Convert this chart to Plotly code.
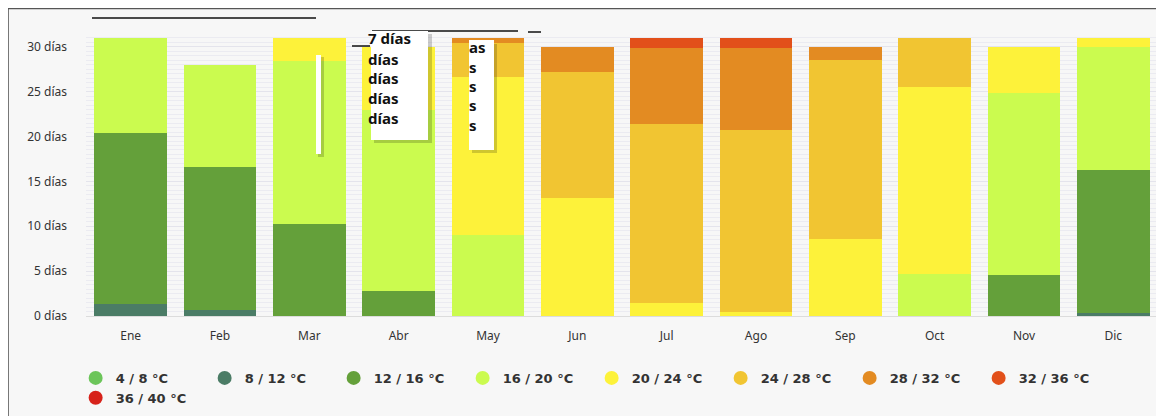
import plotly.graph_objects as go

months = ["Ene", "Feb", "Mar", "Abr", "May", "Jun", "Jul", "Ago", "Sep", "Oct", "Nov", "Dic"]
series_names = ["4 / 8 °C", "8 / 12 °C", "12 / 16 °C", "16 / 20 °C", "20 / 24 °C",
                "24 / 28 °C", "28 / 32 °C", "32 / 36 °C", "36 / 40 °C"]
colors = ["#6cc55a", "#4b7c66", "#64a03a", "#cbfb4f", "#fdf23a",
          "#f1c532", "#e38b22", "#e2501a", "#d7221a"]

t4_8 = [0, 0, 0, 0, 0, 0, 0, 0, 0, 0, 0, 0]
t8_12 = [1.3, 0.7, 0, 0, 0, 0, 0, 0, 0, 0, 0, 0.3]
t12_16 = [19.1, 15.9, 10.3, 2.8, 0, 0, 0, 0, 0, 0, 4.6, 16.0]
t16_20 = [10.6, 11.4, 18.1, 20.2, 9.0, 0, 0, 0, 0, 4.7, 20.2, 13.7]
t20_24 = [0, 0, 2.6, 7.0, 17.6, 13.2, 1.4, 0.5, 8.6, 20.8, 5.2, 1.0]
t24_28 = [0, 0, 0, 0, 3.8, 14.0, 20.0, 20.2, 19.9, 5.5, 0, 0]
t28_32 = [0, 0, 0, 0, 0.6, 2.8, 8.5, 9.2, 1.5, 0, 0, 0]
t32_36 = [0, 0, 0, 0, 0, 0, 1.1, 1.1, 0, 0, 0, 0]
t36_40 = [0, 0, 0, 0, 0, 0, 0, 0, 0, 0, 0, 0]
series = [t4_8, t8_12, t12_16, t16_20, t20_24, t24_28, t28_32, t32_36, t36_40]

y_ticks = [0, 5, 10, 15, 20, 25, 30]
y_labels = [f"{v} días" for v in y_ticks]

FONT = "Noto Sans"
W, H = 1156, 408          # page body margin of 8px offsets the figure in the window
ML, MR, MT, MB = 78, 6, 28, 100
PW, PH = W - ML - MR, H - MT - MB
OFF = 8

fig = go.Figure()
for name, col, vals in zip(series_names, colors, series):
    fig.add_trace(go.Bar(x=months, y=vals, name=name, marker=dict(color=col, line=dict(width=0)),
                         showlegend=False, legendgroup=name))
for name, col in zip(series_names, colors):
    fig.add_trace(go.Scatter(x=[None], y=[None], mode="markers", name=name, legendgroup=name,
                             marker=dict(symbol="circle", size=14, color=col)))

fig.update_layout(
    width=W, height=H,
    margin=dict(l=ML, r=MR, t=MT, b=MB, autoexpand=False),
    barmode="stack", bargap=0.19,
    paper_bgcolor="#f7f7f7", plot_bgcolor="#f7f7f7",
    font=dict(family=FONT, size=12, color="#333333"),
    legend=dict(orientation="h", xref="container", yref="container",
                x=0.0585, xanchor="left", y=0.130, yanchor="top",
                font=dict(family="DejaVu Sans", size=13, color="#333333", weight="bold"),
                entrywidth=84, entrywidthmode="pixels",
                bgcolor="rgba(0,0,0,0)", tracegroupgap=0, itemclick=False),
    showlegend=True,
)
fig.update_xaxes(showgrid=False, showline=True, linecolor="#dcdcdc", linewidth=1,
                 ticks="", tickfont=dict(size=12, color="#333333"), ticklabelstandoff=9)
fig.update_yaxes(range=[0, 31.2], tickvals=y_ticks, ticktext=y_labels,
                 showgrid=True, gridcolor="#e4e4ec", gridwidth=1, zeroline=False,
                 minor=dict(dtick=0.5, showgrid=True, gridcolor="#ebebf1", gridwidth=1),
                 tickfont=dict(size=12, color="#333333"), ticklabelstandoff=18)


# reference-screenshot pixel -> paper coordinates (decorations only)
def fx(x):
    return (x - OFF - ML) / PW


def fy(y):
    return (H - MB + OFF - y) / PH


def rect(x0, x1, y0, y1, color):
    return dict(type="rect", xref="paper", yref="paper", x0=fx(x0), x1=fx(x1), y0=fy(y1), y1=fy(y0),
                fillcolor=color, line=dict(width=0), layer="above")


def hline(x0, x1, y, color="#111111", w=1.5):
    return dict(type="line", xref="paper", yref="paper", x0=fx(x0), x1=fx(x1), y0=fy(y), y1=fy(y),
                line=dict(color=color, width=w), layer="above")


shapes = [
    dict(type="line", xref="paper", yref="paper", x0=fx(8), x1=fx(8), y0=fy(416), y1=fy(8),
         line=dict(color="#777777", width=2), layer="above"),
    hline(8, 1164, 8.5, "#555555", 1.5),
    hline(92, 316, 18),
    hline(372, 518, 31),
    hline(528, 541, 32),
    hline(352, 370, 46),
    rect(374, 432, 34, 143, "rgba(0,0,0,0.18)"),
    rect(472, 497, 44, 153, "rgba(0,0,0,0.18)"),
    rect(318, 324, 57, 157, "rgba(0,0,0,0.18)"),
    rect(371, 428, 31, 140, "white"),
    rect(469, 494, 40, 150, "white"),
    rect(316, 321, 55, 154, "white"),
]
fig.update_layout(shapes=shapes)

annots = []
frag1 = ["7 días", "días", "días", "días", "días"]
frag1_y = [38, 59, 78, 98, 118]
for t, yy in zip(frag1, frag1_y):
    annots.append(dict(xref="paper", yref="paper", x=fx(366), y=fy(yy), text=t, showarrow=False,
                       xanchor="left", yanchor="middle",
                       font=dict(family=FONT, size=15, color="#111111", weight="bold")))
frag2 = ["as", "s", "s", "s", "s"]
frag2_y = [47, 67, 86, 105, 125]
for t, yy in zip(frag2, frag2_y):
    annots.append(dict(xref="paper", yref="paper", x=fx(467), y=fy(yy), text=t, showarrow=False,
                       xanchor="left", yanchor="middle",
                       font=dict(family=FONT, size=15, color="#111111", weight="bold")))
fig.update_layout(annotations=annots)

fig.write_html("out.html")
